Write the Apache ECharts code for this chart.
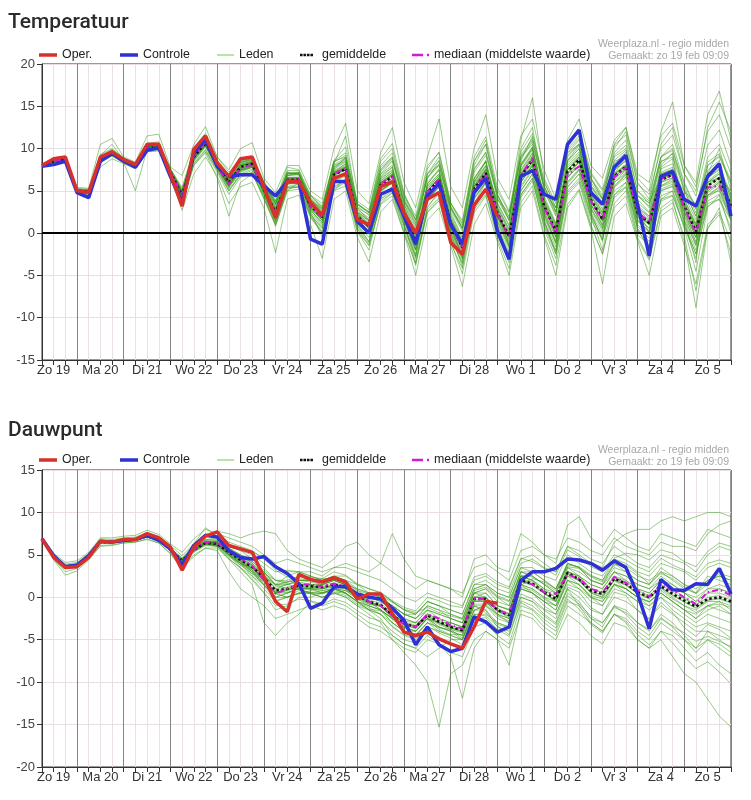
<!DOCTYPE html>
<html><head><meta charset="utf-8">
<script src="https://cdn.jsdelivr.net/npm/echarts@6/dist/echarts.min.js"></script>
<style>html,body{margin:0;padding:0;background:#fff}#c{width:751px;height:800px}</style>
</head><body><div id="c"></div>
<script>
// ---------- categories ----------
const days = ['Zo 19','Ma 20','Di 21','Wo 22','Do 23','Vr 24','Za 25','Zo 26','Ma 27','Di 28','Wo 1','Do 2','Vr 3','Za 4','Zo 5','Ma 6'];
const hours = ['00','06','12','18'];

// ---------- Temperatuur ----------
const tempOper = [8.0,8.8,9.0, 5.0,4.8,9.0,9.6, 8.7,8.1,10.5,10.5, 7.0,3.2,9.9,11.5, 8.3,6.7,8.8,9.0, 5.5,1.8,6.1,6.1, 3.6,2.1,6.5,7.0, 1.6,1.0,5.5,6.1, 2.4,0.0,4.0,4.8, -1.1,-2.5,3.3,5.2, 2.0];
const tempControle = [7.9,8.1,8.5, 4.8,4.2,8.5,9.4, 8.5,7.8,9.8,10.1, 6.7,3.6,9.5,11.1, 7.9,6.7,6.9,6.9, 5.6,4.4,6.1,6.1, -0.7,-1.3,6.1,6.1, 1.4,0.0,4.6,5.2, 2.0,-1.3,4.4,5.9, 1.0,-1.3,4.8,6.5, 0.2,-3.1,6.7,7.4, 4.6,4.0,10.5,12.2, 4.8,3.4,7.8,9.2, 3.4,-2.7,6.7,7.3, 4.0,3.2,6.7,8.2, 2.0];
const tempGemiddelde = [8.0,8.5,8.7, 5.0,4.9,8.8,9.5, 8.6,8.0,10.1,10.2, 7.2,4.5,9.0,10.7, 8.0,6.0,7.8,8.2, 5.2,2.4,6.3,6.3, 3.2,1.9,6.9,7.6, 2.0,0.8,5.7,6.7, 2.4,-1.1,4.8,6.3, 1.2,-1.7,5.2,7.1, 2.4,-0.4,6.7,8.7, 3.2,0.2,7.3,8.7, 4.0,1.6,6.7,7.9, 2.4,1.2,6.3,6.9, 3.2,0.2,5.6,6.5, 3.2];
const tempMediaan = [8.0,8.5,8.7, 5.0,4.9,8.8,9.5, 8.6,8.0,10.1,10.2, 7.2,4.4,9.1,10.8, 7.9,5.8,7.7,8.1, 5.2,2.3,6.3,6.4, 3.1,1.8,7.0,7.7, 2.0,0.8,5.8,6.8, 2.3,-1.2,4.9,6.4, 1.1,-1.8,5.3,7.0, 2.3,-0.5,6.8,8.9, 3.0,0.0,6.9,7.9, 3.8,1.5,6.6,7.8, 2.5,1.3,6.4,6.8, 3.0,0.0,5.4,5.6, 3.0];
const tempLeden = [
 [8.1,8.7,8.9, 5.2,5.0,9.2,10.5, 8.7,8.2,10.4,10.5, 7.5,5.0,9.6,11.2, 8.3,6.5,8.4,8.6, 5.8,3.5,7.0,6.9, 4.0,2.8,8.0,8.6, 3.0,2.2,7.5,8.8, 4.0,1.0,6.5,8.0, 3.0,0.5,7.5,9.5, 4.5,2.0,9.0,11.0, 5.5,2.5,9.5,11.0, 6.0,4.0,9.5,11.0, 5.0,3.5,9.0,10.5, 6.0,3.0,9.0,10.5, 7.0],
 [7.9,8.3,8.5, 4.8,4.7,8.4,9.2, 8.4,7.8,9.8,9.9, 6.8,3.8,8.2,9.8, 7.4,5.0,6.8,7.2, 4.0,1.0,5.2,5.5, 2.0,0.2,5.2,6.0, 0.5,-1.5,3.5,4.8, 0.8,-3.0,2.5,4.0, -0.5,-3.5,3.0,5.0, 0.5,-2.5,4.5,6.5, 1.0,-2.0,5.0,6.5, 2.0,-0.5,4.5,5.5, 0.5,-1.0,4.0,4.5, 1.0,-2.5,3.5,4.0, 1.5],
 [8.0,8.6,8.8, 5.1,5.1,9.0,9.7, 8.8,8.1,10.3,10.3, 7.3,4.8,9.3,11.0, 8.5,6.8,8.5,8.8, 6.0,3.8,7.2,7.0, 4.5,3.5,8.5,9.0, 3.5,2.5,8.0,9.5, 4.5,1.5,7.0,8.0, 2.5,-0.5,6.5,8.5, 3.0,0.5,8.5,11.5, 6.0,3.0,10.5,12.0, 7.0,5.0,9.0,10.0, 4.0,2.5,8.5,9.0, 5.0,2.0,7.0,8.0, 4.0],
 [7.9,8.2,8.4, 4.7,4.5,7.8,8.8, 8.2,7.6,9.6,9.8, 6.5,2.7,7.0,9.0, 6.8,3.5,5.5,6.0, 3.0,-2.3,4.0,4.5, 1.0,-3.0,4.0,5.0, -0.5,-3.4,2.5,4.0, 0.0,-5.0,1.5,3.0, -1.5,-6.3,1.0,3.5, -1.0,-5.0,3.0,5.0, -0.5,-5.0,3.0,5.0, 0.5,-6.0,2.0,3.5, -1.0,-5.0,2.0,3.0, -1.5,-6.0,1.0,2.5, -1.0],
 [8.2,8.9,9.1, 5.4,5.3,10.5,11.2, 9.0,8.4,11.5,11.7, 7.8,6.8,10.5,12.6, 9.0,7.5,10.0,10.7, 6.5,4.8,8.0,8.0, 5.0,4.0,10.0,13.0, 5.0,3.5,9.5,12.5, 6.0,3.0,9.0,13.5, 5.5,3.0,10.0,14.0, 6.5,4.0,11.5,13.5, 7.5,4.0,11.0,13.5, 8.0,6.5,11.0,12.5, 7.0,6.0,11.5,13.0, 8.0,5.5,12.0,14.0, 10.0],
 [8.0,8.4,8.6, 4.9,4.8,8.7,9.4, 8.5,7.9,10.0,10.1, 7.0,4.2,8.8,10.4, 7.8,5.5,7.2,7.8, 5.0,2.0,5.8,6.0, 3.0,1.5,6.5,7.0, 1.5,0.0,5.0,6.0, 2.0,-1.5,4.0,5.5, 1.5,-1.0,5.5,7.5, 2.0,-1.5,6.0,8.0, 2.5,-0.5,6.5,8.0, 3.5,1.0,6.0,7.0, 2.0,0.5,5.5,6.0, 2.5,-0.5,4.5,5.5, 2.5],
 [8.1,8.6,8.8, 5.0,4.8,8.9,9.6, 8.7,8.0,10.2,10.4, 7.4,4.6,9.2,10.9, 8.2,6.2,8.0,8.4, 5.5,2.8,6.5,6.5, 3.5,2.2,7.2,7.8, 2.5,1.5,6.5,7.5, 3.0,-0.5,5.5,7.0, 2.0,-1.0,6.0,8.0, 3.5,1.0,8.0,10.0, 4.0,1.0,8.5,10.0, 5.0,2.5,7.5,8.5, 3.0,2.0,7.0,7.5, 4.0,1.0,6.5,7.5, 4.5],
 [7.9,8.4,8.6, 4.9,4.7,8.6,9.3, 8.5,7.9,9.9,10.0, 7.0,4.0,8.5,10.2, 7.6,5.2,7.0,7.6, 4.6,1.5,5.5,5.8, 2.5,0.8,6.0,6.8, 1.0,-0.5,4.5,5.5, 1.5,-2.0,4.0,5.5, 0.5,-2.5,4.5,6.5, 1.5,-1.5,6.0,8.0, 2.0,-1.0,6.0,7.5, 3.0,0.5,5.5,7.0, 1.5,0.0,5.0,5.5, 2.0,-1.5,4.5,5.0, 2.0],
 [8.0,8.5,8.7, 5.1,5.0,9.1,9.9, 8.8,8.2,10.5,10.6, 7.6,5.2,10.0,11.8, 9.0,7.2,8.8,9.0, 6.0,3.0,6.8,7.0, 4.0,2.5,7.5,9.0, 2.5,0.5,7.0,8.0, 2.0,-2.0,6.0,7.5, 1.0,-3.0,6.0,8.5, 3.0,-1.5,8.0,10.0, 4.0,-0.5,9.0,10.5, 2.5,-1.0,7.0,9.0, 3.0,0.0,8.0,9.5, 1.5,-3.5,7.0,10.0, 5.0],
 [8.0,8.4,8.7, 5.0,5.0,8.6,9.4, 8.6,8.0,10.0,10.0, 7.1,4.4,8.6,10.3, 7.8,5.8,7.5,8.0, 5.2,2.6,6.2,6.2, 3.0,1.5,6.5,7.2, 1.8,0.5,5.5,6.5, 2.5,-1.0,4.5,6.0, 1.0,-2.0,5.0,7.0, 2.0,-0.5,6.5,8.5, 3.0,0.0,7.0,8.5, 4.0,1.5,6.5,7.5, 2.5,1.0,6.0,6.5, 3.0,0.0,5.0,6.0, 3.0],
 [8.0,8.5,8.6, 4.9,4.9,8.8,9.5, 8.6,8.0,10.1,10.2, 7.2,4.5,9.0,10.6, 7.9,5.9,7.7,8.0, 5.0,2.0,6.0,6.5, 3.2,1.5,6.8,7.5, 1.5,0.0,5.0,6.0, 1.5,-2.5,4.0,5.5, 0.0,-3.0,4.0,6.0, 0.5,-3.5,4.5,6.5, 0.5,-3.0,4.5,6.0, 1.0,-2.5,3.5,5.0, -0.5,-3.0,3.0,4.0, -1.0,-8.8,0.5,3.0, -3.5],
 [8.1,8.6,8.8, 5.1,5.0,8.9,9.6, 8.7,8.1,10.2,10.3, 7.3,4.7,9.4,11.2, 8.4,6.4,8.2,8.5, 5.6,3.2,7.0,7.2, 3.8,2.5,7.8,8.5, 2.8,1.8,7.0,8.5, 3.5,0.5,6.5,8.5, 3.5,1.0,8.0,10.5, 4.0,1.5,10.0,12.5, 5.0,2.0,10.0,11.5, 6.5,4.0,10.0,12.0, 6.0,4.0,10.5,12.5, 7.0,5.0,12.5,15.5, 12.0],
 [7.9,8.5,8.7, 5.0,4.9,8.8,9.4, 8.6,7.9,10.0,10.1, 7.1,4.3,8.9,10.6, 7.9,5.6,7.6,8.1, 5.2,2.4,6.4,6.4, 3.4,2.0,7.0,7.6, 2.0,0.8,5.8,6.8, 2.4,-1.0,5.0,6.5, 1.3,-1.5,5.5,7.5, 2.5,-0.5,7.0,9.0, 3.5,0.5,7.5,9.0, 4.5,2.0,7.0,8.0, 2.5,1.5,6.5,7.0, 3.5,0.5,6.0,6.5, 3.5],
 [8.0,8.4,8.6, 4.8,4.6,8.5,9.2, 8.3,5.0,9.9,10.0, 6.8,3.5,8.0,9.5, 6.5,2.0,6.0,7.0, 4.5,1.0,5.0,6.0, 2.5,-0.5,5.0,6.5, 1.0,-1.0,4.0,5.5, 1.0,-3.5,3.0,5.0, 0.0,-4.0,3.5,6.0, 1.0,-3.0,5.0,7.0, 1.5,-2.5,5.5,7.0, 2.0,-2.0,4.5,6.0, 0.5,-2.0,4.0,5.0, 0.5,-4.5,3.0,4.5, 0.0],
 [8.1,8.6,8.8, 5.0,5.0,9.0,9.7, 8.7,8.1,10.3,10.4, 7.4,5.0,9.6,11.4, 8.6,6.8,8.6,8.8, 6.2,3.8,7.8,7.5, 4.5,3.0,8.5,9.5, 3.5,2.5,8.5,10.0, 4.5,2.0,8.0,9.5, 3.5,1.5,8.5,10.5, 5.0,2.5,9.0,10.5, 5.5,2.5,9.5,10.5, 5.5,3.5,8.5,9.0, 4.5,3.0,9.0,10.0, 5.0,2.0,8.0,9.0, 6.0],
 [7.9,8.3,8.5, 4.9,4.8,8.6,9.3, 8.5,7.9,9.9,10.0, 7.0,4.3,8.8,10.4, 7.9,5.6,7.4,7.9, 4.8,1.8,5.8,6.2, 2.8,1.0,6.2,7.0, 1.2,0.0,5.0,6.0, 1.8,-1.5,4.5,6.0, 0.8,-2.0,5.0,7.0, 2.0,0.0,7.5,9.5, 3.0,0.5,7.5,9.0, 4.0,1.5,7.0,8.0, 2.0,1.0,6.0,7.0, 3.5,1.0,6.0,7.0, 3.0],
 [8.0,8.6,8.8, 5.1,5.1,9.0,9.8, 8.8,8.2,10.4,10.4, 7.4,4.9,9.4,11.0, 8.3,6.5,8.3,8.6, 5.8,3.4,7.2,7.0, 3.9,2.6,8.2,11.5, 3.0,1.5,7.5,9.0, 3.5,0.0,7.0,9.0, 3.0,0.5,8.5,11.0, 4.5,1.5,11.0,16.0, 6.5,3.5,10.5,12.0, 6.5,4.5,10.5,12.5, 6.5,5.0,12.0,15.5, 8.0,6.0,14.0,16.8, 11.0],
 [8.0,8.5,8.7, 5.0,4.9,8.7,9.5, 8.6,8.0,10.1,10.2, 7.2,4.6,9.0,10.8, 8.0,6.0,7.9,8.3, 5.3,2.5,6.4,6.4, 3.3,2.0,7.0,7.8, 2.1,0.9,6.0,7.0, 2.5,-1.0,5.0,6.5, 1.5,-1.5,5.5,7.5, 2.5,-0.5,7.0,9.0, 3.0,0.0,7.5,9.0, 4.0,1.5,6.5,8.0, 2.5,1.0,6.5,7.0, 3.0,-0.5,5.5,6.5, 3.0],
 [8.0,8.6,8.8, 5.1,5.0,8.9,9.6, 8.7,8.1,10.2,10.3, 7.3,4.8,9.3,11.0, 8.2,6.3,8.1,8.4, 5.4,2.6,6.6,6.6, 3.4,2.2,7.3,8.0, 2.4,1.2,6.2,7.2, 2.8,-0.6,5.3,6.8, 1.6,-1.2,5.8,7.8, 3.0,0.2,7.4,9.4, 3.8,0.8,8.0,9.4, 4.6,2.2,7.4,8.6, 3.0,1.8,7.0,7.6, 3.8,0.8,6.2,7.2, 3.8],
 [7.9,8.4,8.6, 4.9,4.8,8.7,9.4, 8.5,7.9,10.0,10.1, 7.1,4.2,8.7,10.4, 7.8,5.7,7.5,7.9, 4.9,2.0,6.0,6.1, 2.9,1.5,6.5,7.2, 1.6,0.3,5.2,6.2, 1.9,-1.6,4.3,5.8, 0.7,-2.3,4.6,6.5, 1.8,-1.0,6.0,8.0, 2.6,-0.4,6.6,8.0, 3.4,1.0,6.0,7.2, 1.8,0.6,5.6,6.2, 2.6,-0.5,4.8,5.8, 2.4],
 [8.0,8.5,8.7, 5.0,4.9,8.8,9.5, 8.6,8.0,10.1,10.2, 7.2,4.5,9.1,10.7, 8.0,6.1,7.8,8.2, 5.1,2.2,6.2,6.3, 3.0,1.7,6.8,7.5, 1.8,0.6,5.5,6.5, 2.2,-1.4,4.6,6.0, 0.9,-2.0,4.9,6.8, 2.2,-0.8,6.4,8.4, 3.0,0.0,7.0,8.4, 3.8,1.4,6.4,7.6, 2.2,1.0,6.0,6.6, 3.0,0.0,5.2,6.2, 3.0],
 [8.1,8.6,8.8, 5.0,4.9,8.9,9.6, 8.7,8.1,10.3,10.3, 7.3,4.7,9.2,10.9, 8.1,6.2,8.0,8.4, 5.4,2.7,6.6,6.6, 3.5,2.3,7.4,8.2, 2.5,1.4,6.4,7.4, 3.0,-0.4,5.6,7.0, 1.8,-0.9,6.1,8.0, 3.3,0.4,7.8,9.8, 4.1,1.0,8.3,9.6, 4.8,2.4,7.6,8.8, 3.3,2.0,7.2,7.8, 4.0,1.2,6.6,7.6, 4.2],
 [7.9,8.4,8.6, 4.9,4.8,8.6,9.3, 8.5,7.9,9.9,10.0, 7.0,4.1,8.6,10.3, 7.7,5.4,7.3,7.8, 4.7,1.7,5.8,5.9, 2.7,1.2,6.2,6.9, 1.2,0.0,4.9,5.9, 1.6,-2.0,4.0,5.4, 0.3,-2.8,4.1,6.0, 1.4,-1.6,5.6,7.6, 2.2,-0.9,6.1,7.6, 3.0,0.6,5.6,6.8, 1.4,0.2,5.2,5.8, 2.2,-1.0,4.4,5.4, 2.0],
 [8.0,8.5,8.7, 5.0,5.0,8.8,9.5, 8.6,8.0,10.1,10.2, 7.2,4.5,8.9,10.7, 8.0,5.9,7.8,8.2, 5.2,2.3,6.3,6.4, 3.1,1.8,7.1,7.8, 2.0,0.7,5.9,6.9, 2.4,-1.2,4.9,6.5, 1.2,-1.8,5.3,7.3, 2.4,-0.5,6.8,8.8, 3.2,0.2,7.4,8.8, 4.0,1.6,6.8,8.0, 2.4,1.2,6.4,7.0, 3.2,0.2,5.7,6.6, 3.2],
 [8.0,8.6,8.8, 5.1,5.0,9.0,9.7, 8.7,8.1,10.2,10.4, 7.4,4.9,9.5,11.1, 8.4,6.6,8.4,8.7, 5.9,3.4,7.1,7.0, 4.0,2.9,8.1,8.9, 3.2,2.1,7.3,8.6, 3.8,0.8,6.6,8.2, 2.8,0.2,7.2,9.2, 4.2,1.6,8.8,10.8, 5.2,2.2,9.2,10.6, 5.6,3.6,8.6,9.8, 4.4,3.2,8.4,9.4, 5.4,2.4,8.0,9.2, 5.8],
 [7.9,8.3,8.5, 4.8,4.7,8.5,9.2, 8.4,7.8,9.8,9.9, 6.9,3.9,8.3,9.9, 7.5,5.0,6.9,7.4, 4.2,1.2,5.4,5.6, 2.2,0.5,5.5,6.3, 0.8,-1.0,4.0,5.0, 1.0,-2.7,3.2,4.6, -0.2,-3.2,3.4,5.4, 0.8,-2.2,5.0,7.0, 1.4,-1.6,5.4,7.0, 2.4,-0.2,5.0,6.0, 0.8,-0.6,4.4,5.0, 1.4,-2.0,3.8,4.6, 1.8],
 [8.0,8.5,8.7, 5.0,4.9,8.8,9.5, 8.6,8.0,10.1,10.2, 7.2,4.4,9.0,10.6, 8.0,5.9,7.7,8.1, 5.0,2.1,6.1,6.2, 3.2,2.0,7.2,8.2, 2.2,1.0,6.2,7.2, 2.6,-0.9,5.0,6.6, 0.6,-2.6,4.6,6.8, 2.0,-1.2,6.2,8.2, 2.4,-1.2,6.6,8.4, 3.4,0.8,6.2,7.4, 1.6,0.2,5.6,6.4, 2.6,-1.2,5.0,6.0, 2.8],
 [8.1,8.6,8.8, 5.1,5.1,8.9,9.6, 8.7,8.1,10.2,10.3, 7.3,4.6,9.2,10.9, 8.1,6.1,8.0,8.3, 5.3,2.6,6.5,6.5, 3.4,2.1,7.2,7.9, 2.3,1.1,6.0,7.0, 2.7,-0.8,5.2,6.8, 1.6,-1.2,5.7,7.6, 2.8,0.0,7.2,9.2, 3.6,0.6,7.8,9.2, 4.4,2.0,7.0,8.2, 2.8,1.6,6.8,7.4, 3.6,0.6,6.0,7.0, 3.6],
 [8.1,8.7,8.9, 5.2,5.1,9.3,10.0, 8.9,8.3,10.6,10.8, 7.6,5.4,9.8,11.6, 8.7,6.9,8.6,9.0, 6.0,3.6,7.4,7.4, 4.2,3.0,8.4,9.2, 3.4,2.4,7.8,9.0, 4.2,1.2,7.0,8.6, 3.2,0.6,7.6,9.6, 4.6,1.8,9.2,11.2, 5.6,2.6,9.8,11.2, 6.4,4.2,9.2,10.4, 5.0,3.8,9.0,9.8, 5.8,2.8,8.4,9.4, 6.2],
 [7.9,8.3,8.5, 4.8,4.7,8.4,9.1, 8.3,7.7,9.7,9.7, 6.7,3.6,8.1,9.6, 7.2,4.6,6.6,7.0, 4.2,0.8,5.0,5.2, 1.8,0.0,5.0,5.6, 0.2,-1.4,3.4,4.4, 0.0,-3.6,2.4,3.8, -1.2,-4.2,2.8,4.6, -0.2,-3.0,4.2,6.2, 0.8,-2.4,4.8,6.2, 1.6,-0.8,4.2,5.4, -0.2,-1.4,3.8,4.4, 0.8,-2.4,3.2,4.0, 0.6],
 [8.0,8.5,8.8, 5.3,5.2,8.8,9.5, 8.8,8.3,10.1,10.3, 7.6,5.0,9.0,10.6, 8.5,6.8,7.9,8.4, 6.0,3.6,6.4,6.6, 4.4,3.2,7.0,7.6, 3.4,2.4,6.0,6.8, 3.8,1.6,5.0,6.4, 3.0,0.8,5.4,7.0, 4.0,2.4,6.8,8.4, 5.0,3.0,7.2,8.4, 5.6,4.0,6.8,7.6, 4.4,3.6,6.6,7.0, 5.0,3.4,6.0,6.6, 5.0],
 [8.0,8.5,8.8, 4.9,4.7,9.0,9.8, 8.5,7.8,10.4,10.5, 7.0,4.0,9.4,11.2, 7.8,5.4,8.3,8.8, 4.8,1.4,7.0,7.2, 2.2,0.6,7.8,8.8, 0.6,-1.2,6.6,7.8, 1.0,-2.8,5.8,7.6, -0.6,-3.6,6.4,8.6, 0.6,-2.8,8.0,10.2, 1.4,-2.2,8.6,10.4, 2.2,-0.8,8.2,9.6, 0.4,-1.6,7.8,8.8, 0.8,-3.0,7.4,8.6, 1.6],
 [8.0,8.6,8.7, 5.0,5.0,8.8,9.6, 8.6,8.1,10.2,10.3, 7.3,4.6,9.1,10.8, 8.1,6.3,8.1,8.5, 5.6,2.9,6.8,6.9, 3.6,2.4,7.6,8.4, 2.6,1.6,6.8,7.8, 3.2,-0.2,5.8,7.4, 2.2,-0.6,6.4,8.4, 3.6,0.8,8.2,10.2, 4.4,1.2,8.6,10.0, 5.2,2.8,8.0,9.2, 3.6,2.4,7.6,8.2, 4.4,1.6,7.0,8.0, 4.6],
 [8.0,8.4,8.6, 4.9,4.8,8.7,9.4, 8.5,7.9,10.0,10.1, 7.1,4.3,8.8,10.5, 7.8,5.6,7.5,7.9, 4.8,1.9,5.9,5.9, 2.7,1.3,6.3,7.0, 1.4,0.2,5.1,6.0, 1.6,-1.9,4.0,5.5, 0.2,-2.7,4.2,6.1, 1.2,-1.8,5.4,7.4, 1.8,-1.2,5.8,7.4, 2.8,0.2,5.4,6.6, 1.0,-0.2,5.0,5.6, 1.6,-1.4,4.2,5.2, 1.4],
 [8.0,8.5,8.7, 5.0,4.9,8.9,9.6, 8.6,8.0,10.2,10.3, 7.2,4.6,9.2,10.9, 8.1,6.2,8.0,8.3, 5.5,2.8,6.8,7.2, 3.8,2.8,8.6,10.2, 3.8,2.8,8.8,10.6, 4.8,1.6,7.6,9.6, 3.6,1.2,9.0,11.4, 5.4,2.6,9.6,11.8, 6.2,3.0,10.2,12.2, 7.2,5.2,10.4,11.6, 5.8,4.6,10.0,11.6, 7.0,4.4,10.4,12.2, 8.0],
 [8.0,8.5,8.7, 5.0,4.8,8.7,9.4, 8.5,7.9,10.0,10.1, 7.1,4.3,8.8,10.5, 7.8,5.6,7.4,7.8, 4.6,1.4,5.4,5.4, 2.0,0.0,5.4,6.2, 0.2,-2.0,3.8,4.8, 0.4,-3.8,2.8,4.2, -1.0,-4.8,2.4,4.4, -0.6,-4.2,3.6,5.6, -0.2,-3.8,3.4,5.2, 0.8,-2.4,3.0,4.4, -0.8,-3.2,2.6,3.6, -0.4,-6.8,0.6,2.2, -2.4]
];

// ---------- Dauwpunt ----------
const dpOper = [6.9,4.7,3.5, 3.6,4.7,6.6,6.5, 6.8,6.8,7.5,7.0, 5.9,3.2,5.9,7.2, 7.7,6.1,5.7,5.3, 2.4,-0.5,-1.7,2.7, 2.1,1.8,2.3,1.8, -0.2,0.4,0.4,-1.9, -4.1,-4.5,-4.1,-4.9, -5.5,-6.0,-3.5,-0.5, -0.7];
const dpControle = [6.9,4.9,3.6, 3.8,4.9,6.6,6.5, 6.7,6.8,7.3,6.7, 5.7,3.8,6.1,7.3, 7.1,5.5,4.7,4.5, 4.8,3.6,2.8,1.6, -1.3,-0.7,1.2,1.3, 0.4,0.0,-0.2,-1.3, -2.7,-5.6,-3.5,-5.6, -6.4,-6.0,-2.3,-2.9, -4.1,-3.5,2.0,3.0, 3.0,3.4,4.5,4.4, 4.0,3.2,4.3,3.5, 0.4,-3.7,2.1,0.9, 0.8,1.6,1.5,3.4, 0.4];
const dpGemiddelde = [6.9,4.8,3.6, 3.8,4.8,6.5,6.5, 6.7,6.8,7.2,6.8, 5.6,4.3,5.6,6.4, 6.3,5.3,4.4,3.6, 2.3,0.8,1.0,1.4, 1.3,1.2,1.5,1.2, 0.2,-0.5,-0.9,-2.1, -3.1,-3.5,-2.1,-2.9, -3.5,-3.9,-0.2,-0.2, -1.5,-2.1,2.0,1.6, 0.6,-0.2,2.9,2.1, 0.8,0.4,2.2,1.6, 0.6,0.0,1.3,0.4, -0.4,-1.1,-0.2,0.0, -0.5];
const dpMediaan = [6.9,4.8,3.6, 3.8,4.8,6.5,6.5, 6.7,6.8,7.2,6.8, 5.6,4.2,5.6,6.5, 6.4,5.5,4.6,3.7, 2.0,0.4,1.0,1.5, 1.5,1.3,1.6,1.3, 0.3,-0.5,-1.0,-2.2, -3.2,-3.5,-2.0,-2.5, -3.3,-3.7,-0.2,-0.2, -1.5,-2.0,2.0,1.5, 0.6,0.4,2.7,2.2, 1.0,0.6,2.4,1.7, 0.8,0.1,1.5,0.8, 0.0,-0.8,0.6,0.9, 0.2];
const dpLeden = [
 [6.9,4.9,3.8, 3.9,4.9,6.7,6.6, 6.8,6.9,7.4,7.0, 5.8,4.6,6.0,6.8, 6.8,6.0,5.5,5.0, 4.0,3.0,3.2,3.0, 2.5,2.0,2.5,2.0, 1.0,0.5,0.0,-1.0, -2.0,-2.5,-1.0,-1.5, -2.0,-2.5,1.0,1.5, 0.5,0.0,3.5,3.0, 2.0,1.0,4.0,3.5, 2.5,2.0,4.0,3.5, 2.5,2.0,3.0,2.5, 1.5,1.0,2.0,2.5, 2.0],
 [6.7,4.4,2.6, 3.1,4.4,6.0,6.1, 6.4,6.5,6.8,6.4, 5.1,3.4,4.8,5.8, 5.5,3.0,1.0,0.0, -1.0,-2.5,-2.0,-1.5, -1.0,-1.5,-1.0,-1.5, -2.5,-3.5,-4.0,-5.0, -6.0,-6.5,-5.0,-5.5, -6.5,-7.0,-3.5,-3.0, -4.5,-5.5,-1.0,-1.5, -3.0,-4.0,-0.5,-1.0, -2.5,-3.5,-1.0,-1.5, -3.0,-4.0,-2.0,-3.0, -4.5,-6.0,-5.0,-6.0, -7.0],
 [7.1,5.2,4.1, 4.3,5.3,7.0,7.0, 7.2,7.3,7.9,7.4, 6.3,5.3,6.9,8.0, 7.5,7.0,6.5,6.0, 5.0,4.0,4.5,4.0, 3.5,3.0,3.5,3.5, 3.0,2.5,2.0,1.0, 0.0,-0.5,0.5,0.0, -0.5,-1.0,2.0,2.5, 1.5,1.0,4.5,5.0, 4.0,3.0,6.0,5.5, 4.5,4.0,6.0,5.0, 4.0,3.5,5.0,4.5, 4.0,3.0,5.0,6.0, 5.5],
 [6.9,4.8,3.5, 3.8,4.8,6.5,6.5, 6.7,6.8,7.2,6.8, 5.6,4.2,5.5,6.3, 6.0,4.5,3.5,2.5, 1.5,0.0,0.5,1.0, 1.0,0.5,1.0,0.5, -0.5,-1.0,-1.5,-3.0, -4.0,-4.5,-3.0,-4.0, -4.5,-5.0,-1.0,-1.5, -3.0,-3.5,1.0,0.5, -0.5,-1.5,2.0,1.0, -0.5,-1.0,1.5,1.0, 0.0,-1.0,0.5,-0.5, -1.5,-2.5,-1.5,-1.0, -2.0],
 [6.9,4.8,3.6, 3.8,4.8,6.6,6.5, 6.7,6.8,7.3,6.9, 5.7,4.4,5.8,6.6, 6.5,5.5,4.0,3.0, 2.0,0.5,0.0,0.5, 0.5,0.0,0.5,0.0, -1.0,-2.0,-3.0,-5.0, -6.5,-8.0,-10.0,-15.3, -9.0,-8.0,-5.0,-4.0, -5.0,-6.0,-2.0,-2.5, -4.0,-5.0,-2.0,-3.0, -4.5,-5.5,-3.0,-3.5, -5.0,-6.0,-4.0,-4.5, -6.0,-7.5,-6.5,-8.0, -9.0],
 [6.9,4.7,3.5, 3.7,4.7,6.4,6.4, 6.6,6.7,7.1,6.7, 5.5,4.2,5.4,6.2, 6.2,5.0,4.0,3.2, 2.0,0.5,0.8,1.2, 1.0,1.0,1.2,1.0, 0.0,-0.8,-1.0,-2.5, -3.5,-4.0,-2.5,-3.0, -3.5,-4.0,0.0,0.0, -1.5,-2.0,2.5,2.0, 0.5,-0.5,3.5,2.5, 1.0,0.5,2.5,2.0, 1.0,0.5,2.0,1.0, 0.0,-1.0,0.5,0.5, 0.0],
 [7.0,4.9,3.7, 3.9,4.9,6.6,6.6, 6.8,6.9,7.3,6.9, 5.8,4.6,6.2,7.2, 7.8,7.5,7.0,7.5, 7.8,7.5,5.5,4.5, 4.0,3.5,4.5,6.0, 6.5,5.0,4.0,3.0, 2.0,1.0,2.0,1.5, 1.0,0.5,3.5,4.0, 3.0,2.0,5.5,6.0, 5.0,4.5,7.0,6.5, 5.5,5.0,7.0,6.0, 5.5,5.0,6.5,6.0, 6.0,5.5,7.5,8.5, 9.0],
 [6.9,4.8,3.7, 3.8,4.8,6.5,6.5, 6.7,6.8,7.2,6.8, 5.6,4.3,5.7,6.5, 6.4,5.5,4.8,4.0, 2.8,1.5,1.8,2.0, 1.8,1.5,2.0,1.5, 0.5,0.0,-0.5,-1.5, -2.5,-3.0,-1.5,-2.0, -2.5,-3.0,0.5,0.5, -1.0,-1.5,2.5,2.0, 1.0,0.0,3.0,2.5, 1.5,1.0,3.0,2.5, 1.5,1.0,2.0,1.5, 0.5,0.0,1.0,1.0, 0.5],
 [6.8,4.5,3.0, 3.4,4.5,6.1,6.2, 6.4,6.5,6.9,6.4, 5.2,3.6,5.0,5.8, 5.8,4.5,3.0,1.5, -3.0,-4.5,-3.0,-2.0, -0.5,-1.0,-0.5,-1.0, -2.0,-3.0,-3.5,-4.5, -5.5,-6.0,-4.5,-5.5, -7.0,-11.9,-6.0,-4.0, -5.0,-8.0,-1.5,-2.0, -3.5,-4.5,-1.0,-2.0, -3.0,-4.0,-2.0,-2.5, -4.0,-5.0,-3.0,-4.0, -5.0,-6.0,-4.0,-4.5, -5.0],
 [6.9,4.8,3.6, 3.8,4.8,6.5,6.6, 6.7,6.8,7.2,6.8, 5.6,4.5,5.9,6.6, 6.6,5.8,5.0,4.2, 3.0,1.5,1.5,2.0, 2.0,1.8,2.2,1.8, 0.8,0.0,-0.2,-1.0, -2.0,-2.5,-1.0,-1.5, -2.5,-3.0,0.5,1.0, -0.5,-1.0,3.0,2.5, 1.5,0.5,3.5,3.0, 2.0,1.5,3.0,2.5, 1.5,1.0,2.5,1.5, 0.5,-0.5,1.0,1.5, 1.0],
 [6.9,4.8,3.6, 3.8,4.8,6.5,6.4, 6.6,6.7,7.1,6.7, 5.5,4.1,5.4,6.2, 6.0,4.8,3.8,2.8, 1.5,0.0,0.0,0.5, 0.5,0.5,1.0,0.5, -0.5,-1.5,-2.0,-3.5, -4.5,-5.0,-3.5,-4.0, -4.5,-5.0,-2.0,-2.0, -3.0,-3.5,0.0,-0.5, -1.5,-2.5,1.0,0.0, -1.5,-2.0,0.0,-0.5, -1.5,-2.5,-1.0,-2.0, -3.0,-4.0,-4.0,-5.0, -6.0],
 [7.0,4.9,3.7, 3.9,4.9,6.6,6.6, 6.8,6.9,7.3,6.9, 5.7,4.4,5.7,6.5, 6.5,5.6,4.8,3.8, 2.5,1.0,1.5,2.0, 2.0,2.0,2.5,2.0, 1.5,1.0,0.5,-0.5, -1.5,-2.0,-0.5,-1.0, -1.5,-2.0,1.5,2.0, 1.0,0.5,4.0,4.5, 3.5,3.0,6.0,5.0, 4.0,3.5,6.5,7.5, 8.0,8.0,9.0,9.5, 9.0,9.5,10.0,10.0, 9.5],
 [6.9,4.8,3.6, 3.8,4.8,6.5,6.5, 6.7,6.8,7.2,6.8, 5.6,4.3,5.6,6.4, 6.3,5.4,4.5,3.5, 2.2,0.8,1.0,1.4, 1.3,1.2,1.5,1.2, 0.2,-0.5,-1.0,-2.0, -3.0,-3.5,-2.0,-3.0, -3.5,-4.0,-0.5,-0.5, -2.0,-2.5,1.5,1.0, 0.0,-0.5,2.5,2.0, 0.5,0.0,2.0,1.5, 0.5,0.0,1.0,0.0, -1.0,-1.5,-0.5,-0.5, -1.0],
 [6.9,4.7,3.5, 3.7,4.7,6.4,6.5, 6.7,6.8,7.1,6.7, 5.5,4.2,5.6,6.4, 6.4,5.2,4.2,3.2, 2.0,0.5,1.0,1.5, 1.5,1.0,1.5,1.0, 0.0,-0.5,-1.0,-2.0, -3.0,-3.5,-2.0,-2.5, -3.0,-3.5,0.0,0.0, -1.5,-2.5,1.5,0.5, -1.0,-2.0,1.0,-1.0, -3.0,-4.0,-2.0,-3.0, -5.0,-6.0,-5.0,-7.0, -9.0,-10.0,-12.0,-14.0, -15.3],
 [6.9,4.8,3.6, 3.8,4.8,6.6,6.6, 6.8,6.9,7.3,6.9, 5.7,4.5,5.8,6.7, 6.7,6.0,5.5,4.5, 3.5,2.0,2.0,2.5, 2.0,2.0,2.5,2.5, 1.5,0.5,0.5,-0.5, -1.5,-2.0,-0.5,-1.0, -2.0,-2.5,1.0,1.5, 0.0,-1.0,3.0,3.0, 2.0,1.0,4.0,3.5, 2.0,1.5,4.0,3.0, 2.0,1.5,3.5,2.5, 1.5,0.5,2.5,2.0, 1.5],
 [6.9,4.8,3.6, 3.8,4.8,6.5,6.5, 6.7,6.8,7.2,6.8, 5.6,4.2,5.5,6.3, 6.1,5.0,4.0,2.5, 1.0,-0.5,0.0,0.5, 0.5,0.0,0.5,0.0, -1.0,-1.5,-2.0,-3.0, -4.0,-4.5,-3.0,-3.5, -4.0,-4.5,-1.0,-1.0, -2.5,-3.0,1.0,0.5, -0.5,-1.5,2.0,1.5, 0.0,-0.5,1.5,0.5, -0.5,-1.5,0.0,-1.0, -2.0,-3.0,-2.0,-2.5, -3.0],
 [7.0,5.0,3.9, 4.1,5.1,6.9,6.8, 7.0,7.1,7.6,7.2, 6.1,4.9,6.3,8.2, 7.2,6.5,6.0,5.5, 4.5,3.5,3.0,3.0, 3.0,2.5,3.5,4.0, 3.5,3.0,4.0,7.5, 4.5,2.5,2.0,1.5, 1.0,0.0,4.5,5.0, 3.5,3.0,7.5,6.5, 5.0,4.0,8.5,9.5, 7.0,6.0,8.0,7.0, 6.0,5.5,7.5,7.0, 6.5,6.0,8.0,7.5, 7.0],
 [6.9,4.8,3.6, 3.8,4.8,6.5,6.5, 6.7,6.8,7.2,6.8, 5.6,4.3,5.6,6.4, 6.3,5.2,4.2,3.0, 1.8,0.5,0.5,1.0, 1.0,0.8,1.0,0.8, -0.2,-1.0,-1.5,-2.5, -3.5,-4.0,-2.5,-3.5, -4.0,-4.5,-0.5,-0.5, -2.0,-2.5,1.5,1.0, 0.0,-1.0,2.5,1.5, 0.0,-0.5,1.5,1.0, 0.0,-0.5,0.5,-0.5, -1.5,-2.0,-1.0,-1.5, -2.0],
 [6.9,4.8,3.6, 3.8,4.8,6.5,6.5, 6.7,6.8,7.2,6.8, 5.6,4.4,5.7,6.5, 6.4,5.4,4.6,3.8, 2.5,1.0,1.2,1.6, 1.5,1.4,1.7,1.4, 0.4,-0.3,-0.7,-1.9, -2.9,-3.3,-1.9,-2.7, -3.3,-3.7,0.0,0.0, -1.3,-1.9,2.2,1.8, 0.8,0.0,3.1,2.3, 1.0,0.6,2.4,1.8, 0.8,0.2,1.5,0.6, -0.2,-0.9,0.0,0.2, -0.3],
 [6.9,4.8,3.6, 3.8,4.8,6.5,6.5, 6.7,6.8,7.2,6.8, 5.6,4.2,5.5,6.3, 6.2,5.1,4.2,3.4, 2.1,0.6,0.8,1.2, 1.1,1.0,1.3,1.0, 0.0,-0.7,-1.1,-2.3, -3.3,-3.7,-2.3,-3.1, -3.7,-4.1,-0.4,-0.4, -1.7,-2.3,1.8,1.4, 0.4,-0.4,2.7,1.9, 0.6,0.2,2.0,1.4, 0.4,-0.2,1.1,0.2, -0.6,-1.3,-0.4,-0.2, -0.7],
 [6.9,4.8,3.6, 3.8,4.8,6.5,6.5, 6.7,6.8,7.2,6.8, 5.6,4.3,5.6,6.4, 6.3,5.3,4.4,3.2, 1.5,0.0,0.5,1.0, 1.0,1.5,2.0,1.5, 0.5,-0.5,-1.5,-3.0, -4.0,-4.0,-2.5,-3.5, -4.0,-5.0,-1.5,-1.0, -2.0,-3.0,1.0,0.5, -0.5,-1.0,1.5,1.0, 0.0,-1.0,1.0,0.5, -0.5,-1.0,0.0,-1.5, -2.5,-3.5,-3.0,-3.5, -4.0],
 [6.9,4.8,3.6, 3.8,4.8,6.5,6.5, 6.7,6.8,7.2,6.8, 5.6,4.4,5.8,6.6, 6.5,5.6,4.8,4.2, 3.2,2.0,1.8,2.0, 2.0,1.5,2.0,1.5, 0.5,0.0,0.0,-1.0, -2.0,-2.5,-1.5,-2.0, -2.5,-3.0,0.5,1.0, 0.0,-0.5,3.0,2.5, 1.5,0.5,4.0,3.5, 2.0,1.5,3.5,3.0, 2.0,1.5,3.0,2.0, 1.0,0.5,2.0,2.5, 2.0],
 [6.9,4.8,3.6, 3.8,4.8,6.5,6.5, 6.7,6.8,7.2,6.8, 5.6,4.3,5.6,6.4, 6.3,5.0,3.5,2.0, 0.5,-1.5,-1.0,0.0, 0.0,0.5,1.0,0.5, -0.5,-1.0,-1.5,-2.5, -3.5,-4.0,-2.5,-3.0, -3.0,-3.5,0.5,0.0, -1.5,-2.0,2.0,1.5, 0.5,-0.5,3.0,2.0, 0.5,0.0,2.0,1.0, 0.0,-0.5,0.5,-0.5, -1.5,-2.5,-1.0,-0.5, -1.5],
 [6.9,4.8,3.6, 3.8,4.8,6.5,6.5, 6.7,6.8,7.2,6.8, 5.6,4.3,5.6,6.4, 6.4,5.5,4.5,3.8, 2.5,1.2,1.5,1.8, 1.5,1.5,2.0,1.5, 0.5,0.0,-0.5,-1.5, -2.5,-3.0,-1.5,-2.5, -3.0,-3.5,0.0,0.5, -1.0,-1.5,2.5,2.0, 1.0,0.5,3.0,2.5, 1.5,1.0,3.0,2.0, 1.0,0.5,2.0,1.0, 0.5,-0.5,0.5,1.0, 0.5],
 [6.9,4.8,3.6, 3.8,4.8,6.5,6.5, 6.7,6.8,7.2,6.8, 5.6,4.3,5.6,6.3, 6.1,4.9,4.0,3.4, 2.2,0.6,0.6,1.0, 1.0,0.8,1.0,0.8, -0.2,-0.8,-1.0,-2.0, -3.0,-3.5,-2.5,-3.2, -3.8,-4.2,-0.8,-0.8, -2.2,-2.8,1.2,0.8, -0.2,-1.0,2.0,1.5, 0.2,-0.2,1.6,1.0, 0.0,-0.6,0.8,-0.2, -1.0,-1.8,-1.0,-0.8, -1.2],
 [6.9,4.8,3.6, 3.8,4.8,6.5,6.5, 6.7,6.8,7.2,6.8, 5.6,4.3,5.6,6.5, 6.5,5.5,5.0,4.5, 3.0,1.5,1.0,1.0, 0.5,0.5,1.0,0.5, -0.5,-1.5,-2.5,-4.5, -5.5,-6.0,-7.0,-6.0, -5.0,-5.0,-1.5,-1.5, -3.5,-4.0,0.0,-0.5, -2.0,-3.0,0.5,-0.5, -2.5,-3.0,-1.0,-2.0, -3.5,-4.5,-2.5,-3.5, -5.0,-6.5,-5.0,-5.5, -6.5],
 [6.9,4.8,3.6, 3.8,4.8,6.5,6.5, 6.7,6.8,7.2,6.8, 5.6,4.3,5.6,6.4, 6.2,5.0,4.0,3.5, 2.5,1.5,2.5,3.0, 2.5,2.0,2.0,1.5, 1.0,0.5,0.0,-1.0, -2.0,-2.0,-0.5,-1.0, -1.5,-2.0,1.5,1.5, 0.5,0.0,3.5,3.5, 2.5,2.0,5.0,4.0, 3.0,2.5,4.5,4.0, 3.0,2.5,4.0,3.5, 3.0,2.0,3.5,4.0, 3.5],
 [6.9,4.8,3.6, 3.8,4.8,6.5,6.5, 6.7,6.8,7.2,6.8, 5.6,4.3,5.6,6.4, 6.3,5.3,4.3,3.4, 2.0,0.6,0.9,1.3, 1.2,1.1,1.4,1.1, 0.1,-0.6,-1.0,-2.2, -3.2,-3.6,-2.2,-3.0, -3.6,-4.0,-0.3,-0.3, -1.6,-2.2,1.9,1.5, 0.5,-0.3,2.8,2.0, 0.7,0.3,2.1,1.5, 0.5,-0.1,1.2,0.3, -0.5,-1.2,-0.3,-0.1, -0.6],
 [6.9,4.9,3.7, 3.9,4.9,6.6,6.6, 6.8,6.9,7.3,6.9, 5.7,4.5,5.9,6.8, 7.0,6.2,5.8,5.4, 4.6,3.2,2.4,2.2, 2.0,2.2,3.0,2.6, 1.6,1.0,0.6,-0.4, -1.2,-1.6,0.0,-0.4, -1.0,-1.2,2.4,2.8, 1.8,1.2,4.6,4.2, 3.4,2.6,5.6,4.8, 3.6,3.0,5.0,4.4, 3.6,3.0,4.6,3.8, 3.2,2.4,4.0,4.4, 4.0],
 [6.9,4.7,3.4, 3.7,4.7,6.4,6.4, 6.6,6.7,7.1,6.7, 5.5,4.1,5.3,6.1, 6.0,4.6,3.4,2.2, 0.6,-1.0,-0.8,-0.2, -0.4,-0.8,-0.2,-0.6, -1.6,-2.4,-2.8,-4.0, -5.0,-5.4,-4.0,-4.8, -5.4,-6.0,-2.6,-2.4, -3.8,-4.6,-0.4,-1.0, -2.2,-3.2,0.2,-0.8, -2.2,-3.0,-1.2,-1.8, -3.0,-3.8,-2.4,-3.4, -4.2,-5.2,-4.6,-5.2, -5.8],
 [6.9,4.8,3.6, 3.8,4.8,6.5,6.5, 6.7,6.8,7.2,6.8, 5.6,4.3,5.6,6.4, 6.3,5.3,4.4,3.6, 2.8,2.0,1.6,1.0, 0.4,0.0,0.4,0.8, 0.2,-0.6,-1.4,-2.6, -3.6,-4.4,-3.0,-3.6, -3.8,-4.8,-1.6,-0.8, -1.0,-1.4,1.4,2.2, 1.8,1.0,3.6,3.4, 2.4,1.8,3.8,3.8, 2.8,1.6,2.8,2.2, 1.2,0.4,1.6,2.8, 2.4],
 [6.9,4.8,3.6, 3.8,4.8,6.5,6.5, 6.7,6.8,7.2,6.8, 5.6,4.3,5.6,6.4, 6.2,5.0,3.8,2.8, 1.8,0.4,0.0,0.4, 0.8,0.6,0.6,0.2, -0.8,-1.4,-1.6,-2.4, -2.8,-3.0,-2.6,-3.8, -4.4,-4.4,-1.0,-1.8, -3.2,-3.6,0.4,-0.2, -1.4,-2.0,1.2,0.6, -1.2,-2.0,0.6,0.2, -1.6,-2.6,-0.6,-1.8, -3.6,-4.6,-3.2,-3.8, -4.8],
 [6.9,4.8,3.6, 3.8,4.8,6.5,6.5, 6.7,6.8,7.2,6.8, 5.6,4.3,5.6,6.5, 6.6,5.8,5.0,4.0, 2.6,1.4,1.8,2.4, 2.4,2.2,2.2,1.8, 0.8,0.4,0.2,-0.6, -1.4,-1.8,-1.2,-1.8, -2.2,-2.6,0.8,1.2, 0.2,-0.4,2.6,2.4, 1.6,0.8,3.8,3.6, 2.6,2.0,4.6,5.2, 5.0,4.4,5.6,5.2, 4.2,3.6,5.4,6.4, 6.0],
 [6.9,4.8,3.6, 3.8,4.8,6.5,6.5, 6.7,6.8,7.2,6.8, 5.6,4.3,5.6,6.4, 6.2,5.1,4.0,3.0, 1.4,-0.4,0.0,0.8, 0.6,0.4,0.8,0.4, -0.6,-1.2,-2.0,-3.4, -4.4,-4.8,-3.4,-4.2, -4.8,-5.6,-2.0,-2.2, -3.4,-4.4,-0.6,-1.4, -2.6,-3.6,-0.2,-1.4, -3.2,-4.2,-2.0,-2.8, -4.4,-5.6,-4.0,-5.4, -7.0,-8.4,-7.6,-8.8, -10.2]
];

// ---------- build ----------
const allCats = [];
days.forEach(d => hours.forEach(h => allCats.push(d + '|' + h)));
const cats = allCats.slice(1, 61);

const FONT = 'Liberation Sans, Arial, sans-serif';
const C = {
  oper: '#d8302c', ctrl: '#2d31d6', leden: 'rgba(52,152,20,0.5)', ledenLegend: '#a3d98c',
  mean: '#111111', median: '#d21ad8', minor: '#e9dfe5', major: '#858585', axis: '#333'
};

function xAxes(gi) {
  return [
    { type: 'category', gridIndex: gi, data: cats, boundaryGap: false,
      axisLine: { show: true, onZero: false, lineStyle: { color: C.axis, width: 1 } },
      axisTick: { show: true, interval: 0, length: 5, lineStyle: { color: C.axis } },
      axisLabel: { interval: (i) => i % 4 === 1, formatter: v => v.split('|')[0], margin: 4,
                   color: '#333', fontSize: 13, fontFamily: FONT },
      splitLine: { show: true, interval: 0, lineStyle: { color: C.minor, width: 1 } } },
    { type: 'category', gridIndex: gi, data: cats, boundaryGap: false, position: 'top',
      axisLine: { show: false, onZero: false }, axisTick: { show: false }, axisLabel: { show: false },
      splitLine: { show: true, interval: (i) => i % 4 === 3, lineStyle: { color: C.major, width: 1 } } }
  ];
}
function yAxis(gi, min, max) {
  return { type: 'value', gridIndex: gi, min: min, max: max, interval: 5,
    axisLine: { show: true, lineStyle: { color: C.axis } },
    axisTick: { show: true, length: 5, lineStyle: { color: C.axis } },
    axisLabel: { margin: 7, color: '#444', fontSize: 13, fontFamily: FONT },
    splitLine: { show: true, lineStyle: { color: C.minor, width: 1 } } };
}
function seriesFor(xi, yi, leden, mean, median, ctrl, oper, zeroLine) {
  const s = [];
  leden.forEach(m => s.push({ name: 'Leden', type: 'line', xAxisIndex: xi, yAxisIndex: yi, data: m,
    showSymbol: false, silent: true, z: 2, itemStyle: { color: C.ledenLegend },
    lineStyle: { color: C.leden, width: 1 } }));
  const meanS = { name: 'gemiddelde', type: 'line', xAxisIndex: xi, yAxisIndex: yi, data: mean,
    showSymbol: false, silent: true, z: 3, itemStyle: { color: C.mean },
    lineStyle: { color: C.mean, width: 2.5, type: [2.5, 2.5] } };
  if (zeroLine) {
    meanS.markLine = { silent: true, symbol: 'none', label: { show: false },
      lineStyle: { color: '#000', width: 2, type: 'solid' }, data: [{ yAxis: 0 }] };
  }
  s.push(meanS);
  s.push({ name: 'mediaan (middelste waarde)', type: 'line', xAxisIndex: xi, yAxisIndex: yi, data: median,
    showSymbol: false, silent: true, z: 4, itemStyle: { color: C.median },
    lineStyle: { color: C.median, width: 2, type: [6, 3, 1.5, 3] } });
  s.push({ name: 'Controle', type: 'line', xAxisIndex: xi, yAxisIndex: yi, data: ctrl,
    showSymbol: false, silent: true, z: 5, itemStyle: { color: C.ctrl },
    lineStyle: { color: C.ctrl, width: 3.5 } });
  s.push({ name: 'Oper.', type: 'line', xAxisIndex: xi, yAxisIndex: yi, data: oper,
    showSymbol: false, silent: true, z: 6, itemStyle: { color: C.oper },
    lineStyle: { color: C.oper, width: 3.5 } });
  return s;
}
const legendDefs = [
  { name: 'Oper.', left: 39, w: 18, icon: 'path://M0,0h18v3.5h-18z', color: C.oper },
  { name: 'Controle', left: 120, w: 18, icon: 'path://M0,0h18v3.5h-18z', color: C.ctrl },
  { name: 'Leden', left: 217, w: 17, icon: 'path://M0,0h17v1.5h-17z', color: C.ledenLegend },
  { name: 'gemiddelde', left: 300, w: 13, icon: 'path://M0,0h2.6v2.6h-2.6z M3.5,0h2.6v2.6h-2.6z M7,0h2.6v2.6h-2.6z M10.5,0h2.6v2.6h-2.6z', color: C.mean, pad: 4 },
  { name: 'mediaan (middelste waarde)', left: 412, w: 17, icon: 'path://M0,0h11v2.6h-11z M15,0h2v2.6h-2z', color: C.median }
];
function legends(top) {
  return legendDefs.map(d => ({
    left: d.left, top: top, padding: 0, itemWidth: d.w, itemHeight: 14, selectedMode: false,
    data: [{ name: d.name, icon: d.icon, itemStyle: { color: d.color, borderWidth: 0 } }],
    textStyle: { color: '#222', fontSize: 12.4, fontFamily: FONT, padding: [0, 0, 0, d.pad || 0] }
  }));
}
function titles(topTitle, topInfo, text) {
  return [
    { text: text, left: 8, top: topTitle, padding: 0,
      textStyle: { fontFamily: 'Roboto', fontWeight: 500, fontSize: 21, color: '#2b2b2b' } },
    { text: 'Weerplaza.nl - regio midden', right: 22, top: topInfo, padding: 0,
      textStyle: { fontFamily: FONT, fontWeight: 'normal', fontSize: 10.5, color: '#a8a8a8' } },
    { text: 'Gemaakt: zo 19 feb 09:09', right: 22, top: topInfo + 12, padding: 0,
      textStyle: { fontFamily: FONT, fontWeight: 'normal', fontSize: 10.5, color: '#a8a8a8' } }
  ];
}

const option = {
  animation: false,
  backgroundColor: '#fff',
  title: [...titles(12, 39, 'Temperatuur'), ...titles(420, 445, 'Dauwpunt')],
  legend: [...legends(49), ...legends(454)],
  grid: [
    { left: 42, right: 20, top: 64, height: 296, show: true, borderColor: '#333', borderWidth: 1, backgroundColor: 'transparent' },
    { left: 42, right: 20, top: 470, height: 297, show: true, borderColor: '#333', borderWidth: 1, backgroundColor: 'transparent' }
  ],
  xAxis: [...xAxes(0), ...xAxes(1)],
  yAxis: [yAxis(0, -15, 20), yAxis(1, -20, 15)],
  series: [
    ...seriesFor(0, 0, tempLeden, tempGemiddelde, tempMediaan, tempControle, tempOper, true),
    ...seriesFor(2, 1, dpLeden, dpGemiddelde, dpMediaan, dpControle, dpOper, false)
  ]
};
const chart = echarts.init(document.getElementById('c'), null, { renderer: 'canvas' });
chart.setOption(option);
</script>
</body></html>
